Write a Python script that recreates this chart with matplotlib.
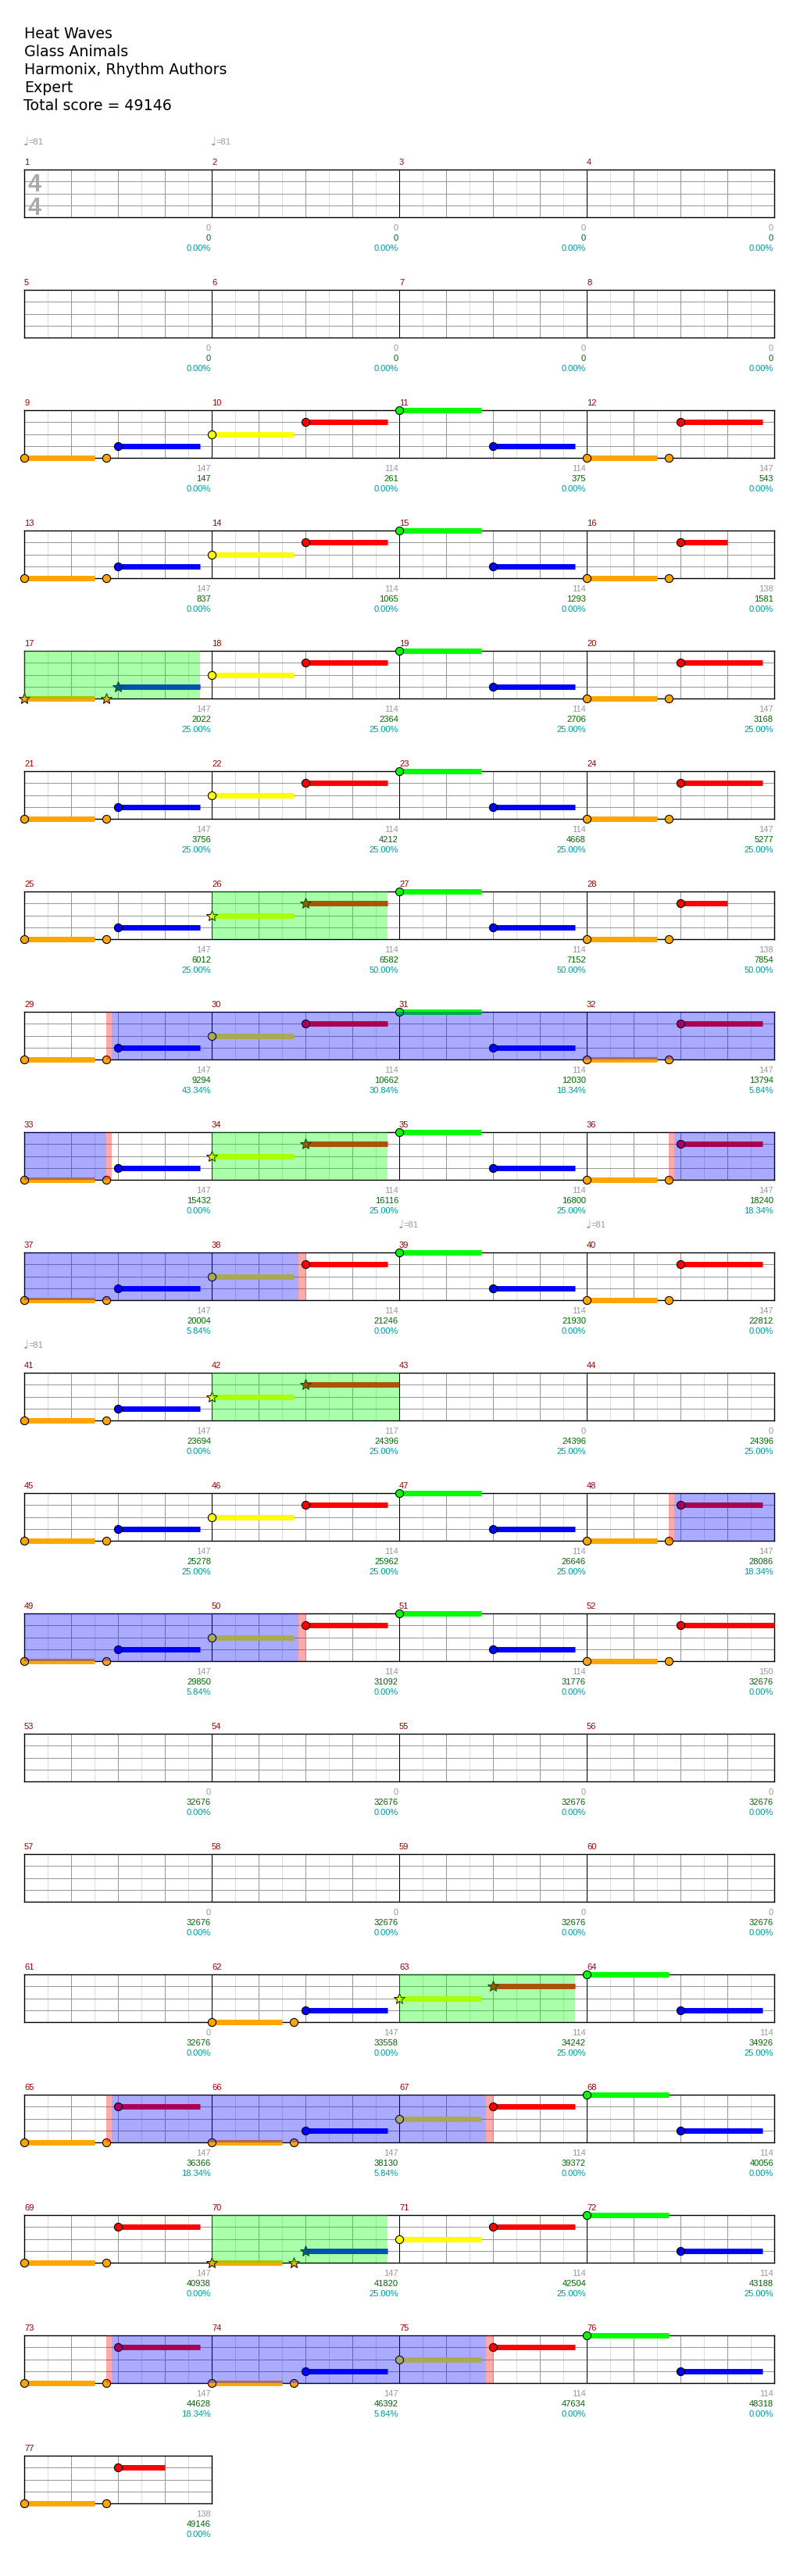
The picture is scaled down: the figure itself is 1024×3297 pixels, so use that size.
import matplotlib
matplotlib.use("Agg")
import matplotlib.pyplot as plt
import numpy as np

# page geometry (pixels)
W_PX, H_PX = 1024, 3298
LEFT, MEAS_W = 31, 240
TOP0, ROW_STEP, STAFF_H = 218, 154, 61
PER_ROW = 4

LABEL_FONT = ['Liberation Sans', 'DejaVu Sans']

title_lines = ["Heat Waves", "Glass Animals", "Harmonix, Rhythm Authors", "Expert",
               "Total score = 49146"]
title_baselines = [49, 72, 95, 118, 141]

n_measures = 77
tempo_measures = [1, 2, 39, 40, 41]
tempo_bpm = 81

# per-measure numbers printed under each bar
measure_base = ([0] * 8 +
                [147, 114, 114, 147, 147, 114, 114, 138, 147, 114, 114, 147,
                 147, 114, 114, 147, 147, 114, 114, 138, 147, 114, 114, 147,
                 147, 114, 114, 147, 147, 114, 114, 147, 147, 117, 0, 0,
                 147, 114, 114, 147, 147, 114, 114, 150] +
                [0] * 8 +
                [0, 147, 114, 114, 147, 147, 114, 114, 147, 147, 114, 114,
                 147, 147, 114, 114, 138])
measure_total = ([0] * 8 +
                 [147, 261, 375, 543, 837, 1065, 1293, 1581,
                  2022, 2364, 2706, 3168, 3756, 4212, 4668, 5277,
                  6012, 6582, 7152, 7854, 9294, 10662, 12030, 13794,
                  15432, 16116, 16800, 18240, 20004, 21246, 21930, 22812,
                  23694, 24396, 24396, 24396, 25278, 25962, 26646, 28086,
                  29850, 31092, 31776, 32676] +
                 [32676] * 8 +
                 [32676, 33558, 34242, 34926, 36366, 38130, 39372, 40056,
                  40938, 41820, 42504, 43188, 44628, 46392, 47634, 48318, 49146])
measure_sp = ([0.0] * 16 +
              [25.0] * 8 +
              [25.0, 50.0, 50.0, 50.0, 43.34, 30.84, 18.34, 5.84,
               0.0, 25.0, 25.0, 18.34, 5.84, 0.0, 0.0, 0.0,
               0.0, 25.0, 25.0, 25.0, 25.0, 25.0, 25.0, 18.34,
               5.84, 0.0, 0.0, 0.0] +
              [0.0] * 10 +
              [25.0, 25.0, 18.34, 5.84, 0.0, 0.0, 0.0, 25.0, 25.0, 25.0,
               18.34, 5.84, 0.0, 0.0, 0.0])

lane_y = {'O': 0, 'B': 1, 'Y': 2, 'R': 3, 'G': 4}
lane_color = {'O': '#ffa500', 'B': '#0000ff', 'Y': '#ffff00', 'R': '#ff0000', 'G': '#00ff00'}

# (measure, beat in measure, lane, sustain beats, star note)
notes = [
    (9, 0, 'O', 1.5, 0), (9, 1.75, 'O', 0, 0), (9, 2, 'B', 1.75, 0),
    (10, 0, 'Y', 1.75, 0), (10, 2, 'R', 1.75, 0),
    (11, 0, 'G', 1.75, 0), (11, 2, 'B', 1.75, 0),
    (12, 0, 'O', 1.5, 0), (12, 1.75, 'O', 0, 0), (12, 2, 'R', 1.75, 0),
    (13, 0, 'O', 1.5, 0), (13, 1.75, 'O', 0, 0), (13, 2, 'B', 1.75, 0),
    (14, 0, 'Y', 1.75, 0), (14, 2, 'R', 1.75, 0),
    (15, 0, 'G', 1.75, 0), (15, 2, 'B', 1.75, 0),
    (16, 0, 'O', 1.5, 0), (16, 1.75, 'O', 0, 0), (16, 2, 'R', 1.0, 0),
    (17, 0, 'O', 1.5, 1), (17, 1.75, 'O', 0, 1), (17, 2, 'B', 1.75, 1),
    (18, 0, 'Y', 1.75, 0), (18, 2, 'R', 1.75, 0),
    (19, 0, 'G', 1.75, 0), (19, 2, 'B', 1.75, 0),
    (20, 0, 'O', 1.5, 0), (20, 1.75, 'O', 0, 0), (20, 2, 'R', 1.75, 0),
    (21, 0, 'O', 1.5, 0), (21, 1.75, 'O', 0, 0), (21, 2, 'B', 1.75, 0),
    (22, 0, 'Y', 1.75, 0), (22, 2, 'R', 1.75, 0),
    (23, 0, 'G', 1.75, 0), (23, 2, 'B', 1.75, 0),
    (24, 0, 'O', 1.5, 0), (24, 1.75, 'O', 0, 0), (24, 2, 'R', 1.75, 0),
    (25, 0, 'O', 1.5, 0), (25, 1.75, 'O', 0, 0), (25, 2, 'B', 1.75, 0),
    (26, 0, 'Y', 1.75, 1), (26, 2, 'R', 1.75, 1),
    (27, 0, 'G', 1.75, 0), (27, 2, 'B', 1.75, 0),
    (28, 0, 'O', 1.5, 0), (28, 1.75, 'O', 0, 0), (28, 2, 'R', 1.0, 0),
    (29, 0, 'O', 1.5, 0), (29, 1.75, 'O', 0, 0), (29, 2, 'B', 1.75, 0),
    (30, 0, 'Y', 1.75, 0), (30, 2, 'R', 1.75, 0),
    (31, 0, 'G', 1.75, 0), (31, 2, 'B', 1.75, 0),
    (32, 0, 'O', 1.5, 0), (32, 1.75, 'O', 0, 0), (32, 2, 'R', 1.75, 0),
    (33, 0, 'O', 1.5, 0), (33, 1.75, 'O', 0, 0), (33, 2, 'B', 1.75, 0),
    (34, 0, 'Y', 1.75, 1), (34, 2, 'R', 1.75, 1),
    (35, 0, 'G', 1.75, 0), (35, 2, 'B', 1.75, 0),
    (36, 0, 'O', 1.5, 0), (36, 1.75, 'O', 0, 0), (36, 2, 'R', 1.75, 0),
    (37, 0, 'O', 1.5, 0), (37, 1.75, 'O', 0, 0), (37, 2, 'B', 1.75, 0),
    (38, 0, 'Y', 1.75, 0), (38, 2, 'R', 1.75, 0),
    (39, 0, 'G', 1.75, 0), (39, 2, 'B', 1.75, 0),
    (40, 0, 'O', 1.5, 0), (40, 1.75, 'O', 0, 0), (40, 2, 'R', 1.75, 0),
    (41, 0, 'O', 1.5, 0), (41, 1.75, 'O', 0, 0), (41, 2, 'B', 1.75, 0),
    (42, 0, 'Y', 1.75, 1), (42, 2, 'R', 2.0, 1),
    (45, 0, 'O', 1.5, 0), (45, 1.75, 'O', 0, 0), (45, 2, 'B', 1.75, 0),
    (46, 0, 'Y', 1.75, 0), (46, 2, 'R', 1.75, 0),
    (47, 0, 'G', 1.75, 0), (47, 2, 'B', 1.75, 0),
    (48, 0, 'O', 1.5, 0), (48, 1.75, 'O', 0, 0), (48, 2, 'R', 1.75, 0),
    (49, 0, 'O', 1.5, 0), (49, 1.75, 'O', 0, 0), (49, 2, 'B', 1.75, 0),
    (50, 0, 'Y', 1.75, 0), (50, 2, 'R', 1.75, 0),
    (51, 0, 'G', 1.75, 0), (51, 2, 'B', 1.75, 0),
    (52, 0, 'O', 1.5, 0), (52, 1.75, 'O', 0, 0), (52, 2, 'R', 2.0, 0),
    (62, 0, 'O', 1.5, 0), (62, 1.75, 'O', 0, 0), (62, 2, 'B', 1.75, 0),
    (63, 0, 'Y', 1.75, 1), (63, 2, 'R', 1.75, 1),
    (64, 0, 'G', 1.75, 0), (64, 2, 'B', 1.75, 0),
    (65, 0, 'O', 1.5, 0), (65, 1.75, 'O', 0, 0), (65, 2, 'R', 1.75, 0),
    (66, 0, 'O', 1.5, 0), (66, 1.75, 'O', 0, 0), (66, 2, 'B', 1.75, 0),
    (67, 0, 'Y', 1.75, 0), (67, 2, 'R', 1.75, 0),
    (68, 0, 'G', 1.75, 0), (68, 2, 'B', 1.75, 0),
    (69, 0, 'O', 1.5, 0), (69, 1.75, 'O', 0, 0), (69, 2, 'R', 1.75, 0),
    (70, 0, 'O', 1.5, 1), (70, 1.75, 'O', 0, 1), (70, 2, 'B', 1.75, 1),
    (71, 0, 'Y', 1.75, 0), (71, 2, 'R', 1.75, 0),
    (72, 0, 'G', 1.75, 0), (72, 2, 'B', 1.75, 0),
    (73, 0, 'O', 1.5, 0), (73, 1.75, 'O', 0, 0), (73, 2, 'R', 1.75, 0),
    (74, 0, 'O', 1.5, 0), (74, 1.75, 'O', 0, 0), (74, 2, 'B', 1.75, 0),
    (75, 0, 'Y', 1.75, 0), (75, 2, 'R', 1.75, 0),
    (76, 0, 'G', 1.75, 0), (76, 2, 'B', 1.75, 0),
    (77, 0, 'O', 1.5, 0), (77, 1.75, 'O', 0, 0), (77, 2, 'R', 1.0, 0),
]

# star power phrases, activations and the red windows at their edges: ((m, beat), (m, beat))
sp_phrases = [((17, 0), (17, 3.75)), ((26, 0), (26, 3.75)), ((34, 0), (34, 3.75)),
              ((42, 0), (42, 4.0)), ((63, 0), (63, 3.75)), ((70, 0), (70, 3.75))]
activations = [((29, 1.87), (33, 1.75)), ((36, 1.87), (38, 1.85)), ((48, 1.87), (50, 1.85)),
               ((65, 1.87), (67, 1.85)), ((73, 1.87), (75, 1.85))]
edge_windows = [((29, 1.75), (29, 1.87)), ((33, 1.75), (33, 1.87)),
                ((36, 1.75), (36, 1.87)), ((38, 1.85), (38, 2.0)),
                ((48, 1.75), (48, 1.87)), ((50, 1.85), (50, 2.0)),
                ((65, 1.75), (65, 1.87)), ((67, 1.85), (67, 2.0)),
                ((73, 1.75), (73, 1.87)), ((75, 1.85), (75, 2.0))]


def abs_beat(mb):
    m, b = mb
    return 4 * (m - 1) + b


fig = plt.figure(figsize=(W_PX / 100, H_PX / 100), dpi=100)

for i, line in enumerate(title_lines):
    x = 31 if i < 4 else 30
    fig.text(x / W_PX, 1 - title_baselines[i] / H_PX, line, fontsize=13.7,
             family='DejaVu Sans', color='black', va='baseline', ha='left')

n_rows = (n_measures + PER_ROW - 1) // PER_ROW
for r in range(n_rows):
    m_first = r * PER_ROW + 1
    m_last = min(m_first + PER_ROW - 1, n_measures)
    nm = m_last - m_first + 1
    top = TOP0 + r * ROW_STEP
    ax = fig.add_axes([LEFT / W_PX, 1 - (top + STAFF_H) / H_PX,
                       nm * MEAS_W / W_PX, STAFF_H / H_PX])
    b0, b1 = 4 * (m_first - 1), 4 * m_last
    ax.set_xlim(b0, b1)
    ax.set_ylim(0, 4)
    ax.set_xticks(np.arange(b0, b1 + 1, 1))
    ax.set_xticks(np.arange(b0 + 0.5, b1, 1), minor=True)
    ax.set_yticks([1, 2, 3])
    ax.grid(which='major', color='#999999', lw=0.75)
    ax.grid(which='minor', axis='x', color='#dddddd', lw=0.75)
    ax.set_axisbelow(True)
    ax.tick_params(which='both', length=0, labelbottom=False, labelleft=False)
    for s in ax.spines.values():
        s.set_linewidth(1.0)
    if nm > 1:
        ax.vlines(np.arange(b0 + 4, b1, 4), 0, 4, color='black', lw=0.75, zorder=1.5)

    # notes
    for (m, b, lane, ln, star) in notes:
        if not (m_first <= m <= m_last):
            continue
        x = abs_beat((m, b))
        y = lane_y[lane]
        c = lane_color[lane]
        if ln > 0:
            ax.plot([x, x + ln], [y, y], color=c, lw=5.0, solid_capstyle='butt',
                    zorder=3, clip_on=False)
        if star:
            ax.plot(x, y, marker='*', ms=10, mfc=c, mec='black', mew=0.7,
                    zorder=4, clip_on=False)
        else:
            ax.plot(x, y, marker='o', ms=7.3, mfc=c, mec='black', mew=0.8,
                    zorder=4, clip_on=False)

    # overlays
    for s, e in sp_phrases:
        ax.axvspan(abs_beat(s), abs_beat(e), color='#00ff00', alpha=1 / 3, lw=0, zorder=5)
    for s, e in activations:
        ax.axvspan(abs_beat(s), abs_beat(e), color='#0000ff', alpha=1 / 3, lw=0, zorder=5)
    for s, e in edge_windows:
        ax.axvspan(abs_beat(s), abs_beat(e), color='#ff0000', alpha=1 / 3, lw=0, zorder=5)

    # texts
    for m in range(m_first, m_last + 1):
        xs, xe = 4 * (m - 1), 4 * m
        ax.annotate(str(m), xy=(xs, 4), xytext=(0, 7), textcoords='offset pixels',
                    ha='left', va='baseline', color='#990000', fontsize=8,
                    family=LABEL_FONT, annotation_clip=False)
        ax.annotate(str(measure_base[m - 1]), xy=(xe, 0), xytext=(-1, -16),
                    textcoords='offset pixels', ha='right', va='baseline',
                    color='#999999', fontsize=8, family=LABEL_FONT, annotation_clip=False)
        ax.annotate(str(measure_total[m - 1]), xy=(xe, 0), xytext=(-1, -29),
                    textcoords='offset pixels', ha='right', va='baseline',
                    color='#006600', fontsize=8, family=LABEL_FONT, annotation_clip=False)
        ax.annotate(f"{measure_sp[m - 1]:.2f}%", xy=(xe, 0), xytext=(-1, -42),
                    textcoords='offset pixels', ha='right', va='baseline',
                    color='#009999', fontsize=8, family=LABEL_FONT, annotation_clip=False)
        if m in tempo_measures:
            ax.annotate("\u2669", xy=(xs, 4), xytext=(-1, 31),
                        textcoords='offset pixels', ha='left', va='baseline',
                        color='#999999', fontsize=11, family='DejaVu Sans',
                        annotation_clip=False)
            ax.annotate(f"={tempo_bpm}", xy=(xs, 4), xytext=(5, 33),
                        textcoords='offset pixels', ha='left', va='baseline',
                        color='#999999', fontsize=8, family=LABEL_FONT,
                        annotation_clip=False)

    if r == 0:
        for dy in (-27, -57):
            ax.annotate("4", xy=(b0, 4), xytext=(13.5, dy), textcoords='offset pixels',
                        ha='center', va='baseline', color='#aaaaaa', fontsize=22,
                        fontweight='bold', family=LABEL_FONT, annotation_clip=False,
                        zorder=2)

fig.savefig("out.png", dpi=100)
plt.close(fig)
